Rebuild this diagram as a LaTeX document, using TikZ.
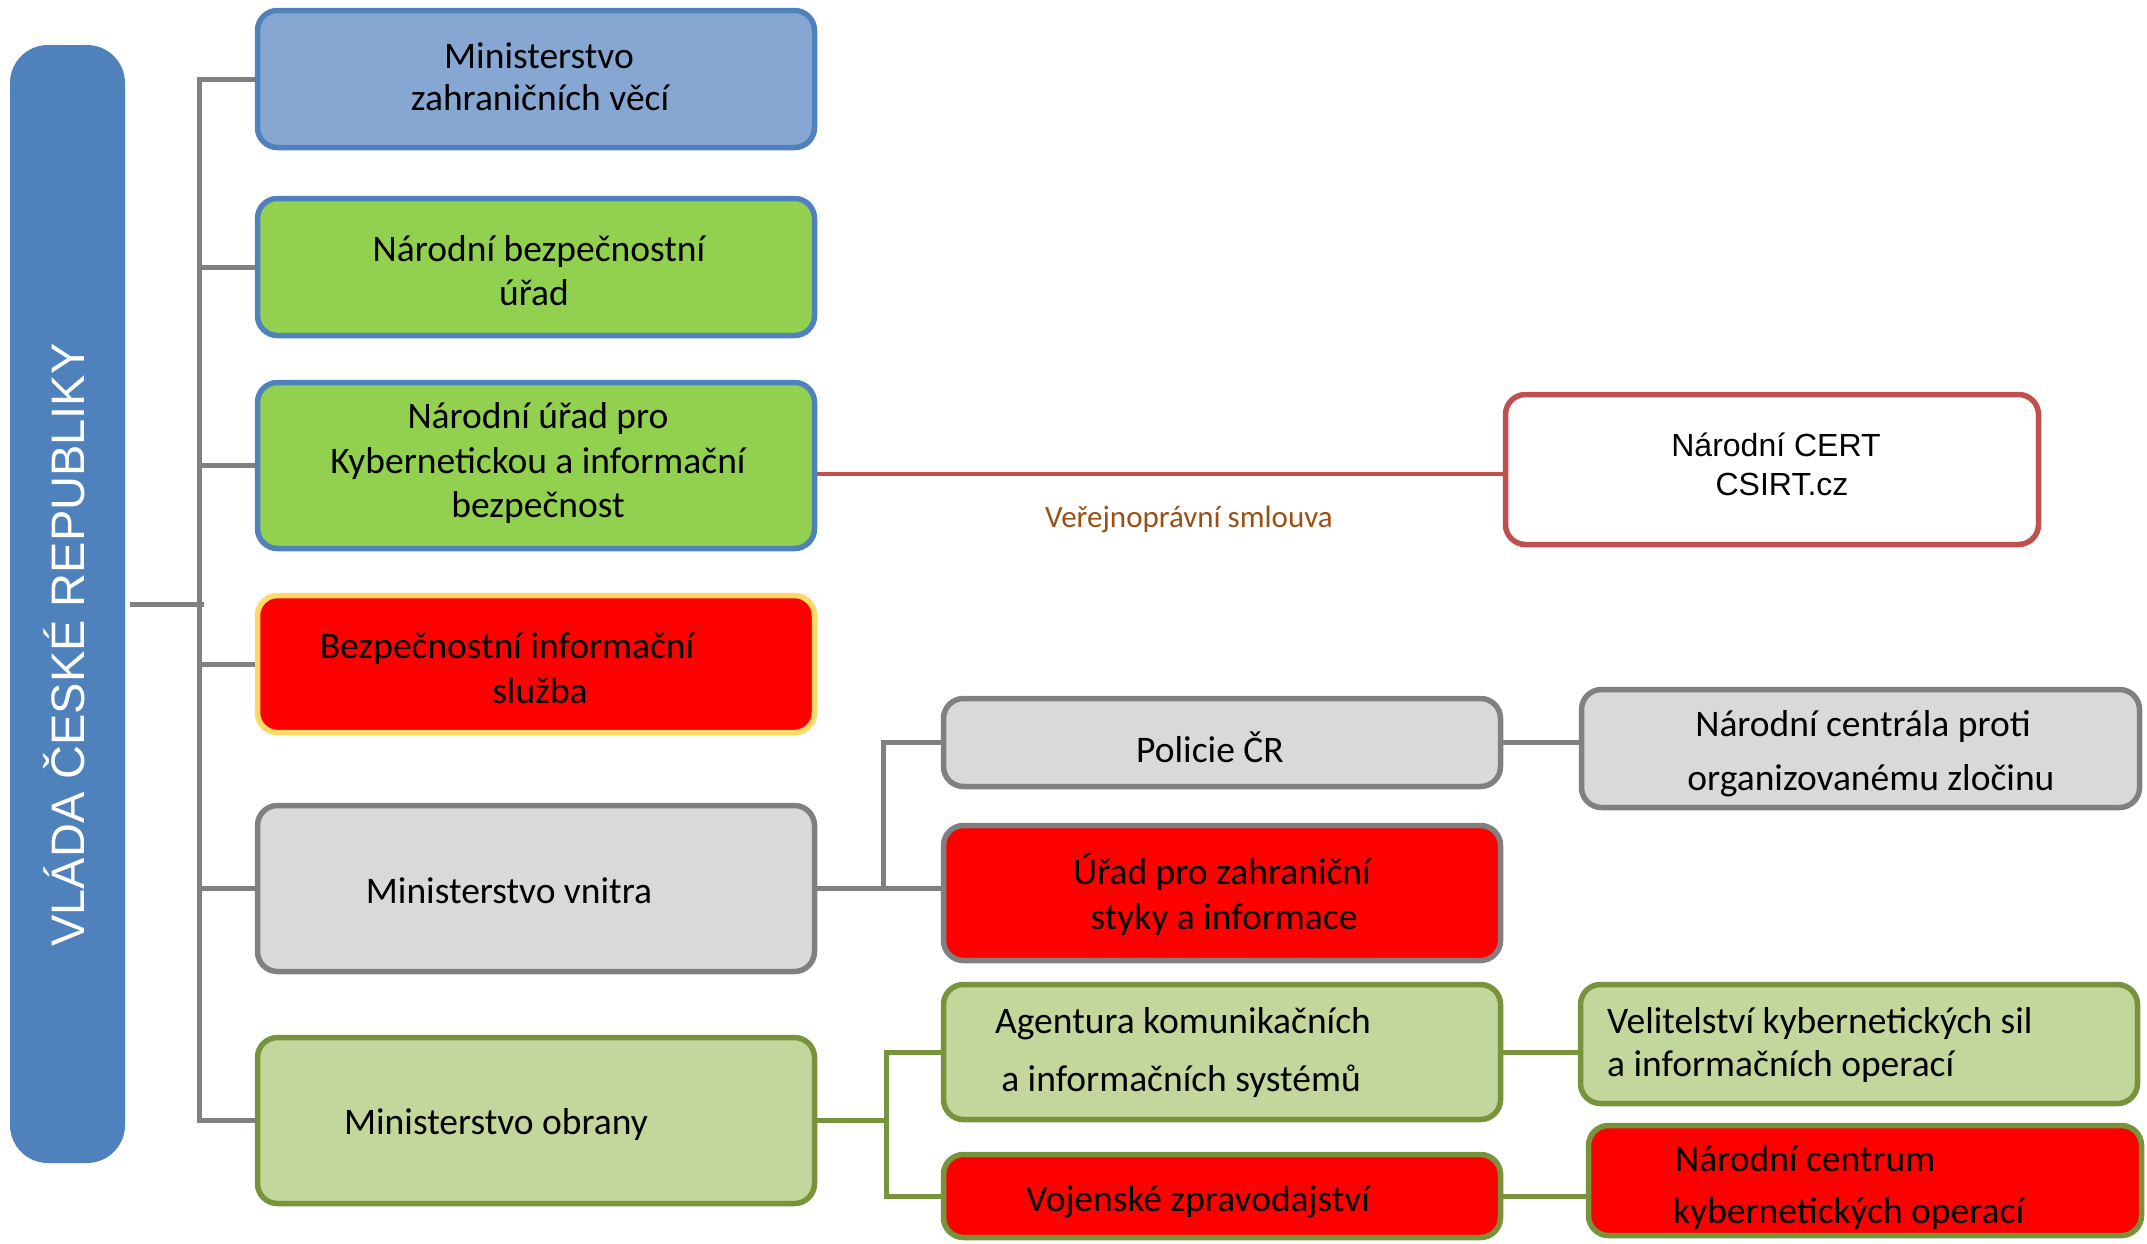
\documentclass[tikz,border=0pt]{standalone}
\usepackage{fontspec}
\setmainfont{Carlito}
\newfontfamily\arialf{Liberation Sans}
\definecolor{vblue}{RGB}{79,129,189}
\definecolor{lblue}{RGB}{134,167,210}
\definecolor{bgreen}{RGB}{146,208,80}
\definecolor{lgreen}{RGB}{195,214,155}
\definecolor{dgreen}{RGB}{119,147,60}
\definecolor{gfill}{RGB}{217,217,217}
\definecolor{gline}{RGB}{128,128,128}
\definecolor{ylw}{RGB}{255,217,102}
\definecolor{cred}{RGB}{192,80,77}
\definecolor{lblc}{RGB}{156,80,20}
\newcommand\bx[6]{\node[box,#6,minimum width={(#4-#2-5)*1pt},minimum height={(#5-#3-5)*1pt}] (#1) at ({(#2+#4)/2},{(#3+#5)/2}) {};}
\newcommand\tl[4]{\node[txt,anchor=base] (#1) at (#2,{#3+11.5}) {#4};}
\newcommand\tll[4]{\node[txt,anchor=base west] (#1) at (#2,{#3+11.5}) {#4};}
\begin{document}
\begin{tikzpicture}[x=1pt,y=-1pt,
  box/.style={draw,line width=5.5pt,rounded corners=20pt,inner sep=0pt},
  txt/.style={inner sep=0pt,font=\fontsize{37.5}{44}\selectfont},
  gconn/.style={draw=gline,line width=5pt},
  grconn/.style={draw=dgreen,line width=5pt},
  bluebox/.style={draw=vblue,fill=lblue},
  greenbox/.style={draw=vblue,fill=bgreen},
  bisbox/.style={draw=ylw,fill=red},
  graybox/.style={draw=gline,fill=gfill},
  redgraybox/.style={draw=gline,fill=red},
  lgbox/.style={draw=dgreen,fill=lgreen},
  redgbox/.style={draw=dgreen,fill=red},
  certbox/.style={draw=cred,fill=white}]
\useasboundingbox (0,0) rectangle (2147,1243);
% government bar
\node[fill=vblue,rounded corners=38pt,inner sep=0pt,minimum width=115pt,minimum height=1118pt] (V) at (67.5,604) {};
\node[text=white,font=\arialf\fontsize{47}{50}\selectfont,rotate=90,anchor=base,inner sep=0pt] (Vt) at (84,645) {VLÁDA ČESKÉ REPUBLIKY};
% boxes
\bx{B1}{255}{8}{817}{150}{bluebox}
\bx{B2}{255}{196}{817}{338}{greenbox}
\bx{B3}{255}{380}{817}{551}{greenbox}
\bx{BIS}{255}{593}{817}{735}{bisbox}
\bx{MV}{255}{803}{817}{974}{graybox}
\bx{MO}{255}{1035}{817}{1206}{lgbox}
\bx{CERT}{1503}{392}{2041}{547}{certbox}
\bx{POL}{941}{696}{1503}{789}{graybox}
\bx{NCOZ}{1579}{687}{2142}{810}{graybox}
\bx{UZSI}{941}{823}{1503}{963}{redgraybox}
\bx{AKIS}{941}{982}{1503}{1122}{lgbox}
\bx{VKSIO}{1578}{982}{2140}{1106}{lgbox}
\bx{VZ}{941}{1152}{1503}{1240}{redgbox}
\bx{NCKO}{1586}{1123}{2144}{1238}{redgbox}
% trunk
\coordinate (tx) at (199,0);
\coordinate (mx) at (883,0);
\coordinate (ox) at (886,0);
\coordinate (ly) at (0,474);
\draw[gconn] (B1.west) -- (B1.west -| tx) -- (MO.west -| tx) -- (MO.west);
\draw[gconn] (B2.west) -- (B2.west -| tx);
\draw[gconn] (B3.west) -- (B3.west -| tx);
\draw[gconn] (BIS.west) -- (BIS.west -| tx);
\draw[gconn] (MV.west) -- (MV.west -| tx);
\draw[gconn] ([xshift=5pt]V.east) -- ([xshift=5pt]V.east -| tx);
% cert link
\draw[draw=cred,line width=4pt] (B3.east |- ly) -- (CERT.west |- ly);
\node[text=lblc,inner sep=0pt,font=\fontsize{31}{36}\selectfont,anchor=base] (smlouva) at (1189,527) {Veřejnoprávní smlouva};
% interior
\draw[gconn] (MV.east) -- (UZSI.west |- MV.east);
\draw[gconn] (POL.west) -- (POL.west -| mx) -- (MV.east -| mx);
\draw[gconn] (POL.east) -- (NCOZ.west |- POL.east);
% defence
\draw[grconn] (MO.east) -- (MO.east -| ox);
\draw[grconn] (AKIS.west) -- (AKIS.west -| ox) -- (VZ.west -| ox) -- (VZ.west);
\draw[grconn] (AKIS.east) -- (VKSIO.west |- AKIS.east);
\draw[grconn] (VZ.east) -- (NCKO.west |- VZ.east);
% texts
\tl{t1a}{539}{57}{Ministerstvo}
\tl{t1b}{540}{99}{zahraničních věcí}
\tl{t2a}{539}{250}{Národní bezpečnostní}
\tl{t2b}{534}{294}{úřad}
\tl{t3a}{538}{417}{Národní úřad pro}
\tl{t3b}{538}{462}{Kybernetickou a informační}
\tl{t3c}{538}{506}{bezpečnost}
\tl{t4a}{507}{647}{Bezpečnostní informační}
\tl{t4b}{540}{692}{služba}
\tl{t5}{509}{892}{Ministerstvo vnitra}
\tl{t6}{496}{1123}{Ministerstvo obrany}
\node[inner sep=0pt,font=\arialf\fontsize{32}{39}\selectfont,anchor=base] (tc1) at (1776,456) {Národní CERT};
\node[inner sep=0pt,font=\arialf\fontsize{32}{39}\selectfont,anchor=base] (tc2) at (1782,495) {CSIRT.cz};
\tl{tp}{1210}{751}{Policie ČR}
\tl{tn1}{1863}{725}{Národní centrála proti}
\tl{tn2}{1871}{779}{organizovanému zločinu}
\tl{tu1}{1222}{873}{Úřad pro zahraniční}
\tl{tu2}{1224}{918}{styky a informace}
\tl{ta1}{1183}{1022}{Agentura komunikačních}
\tl{ta2}{1181}{1080}{a informačních systémů}
\tll{tv1}{1607}{1022}{Velitelství kybernetických sil}
\tll{tv2}{1607}{1065}{a informačních operací}
\tl{tz}{1198}{1200}{Vojenské zpravodajství}
\tll{tk1}{1675}{1160}{Národní centrum}
\tll{tk2}{1673}{1212}{kybernetických operací}
\end{tikzpicture}
\end{document}
